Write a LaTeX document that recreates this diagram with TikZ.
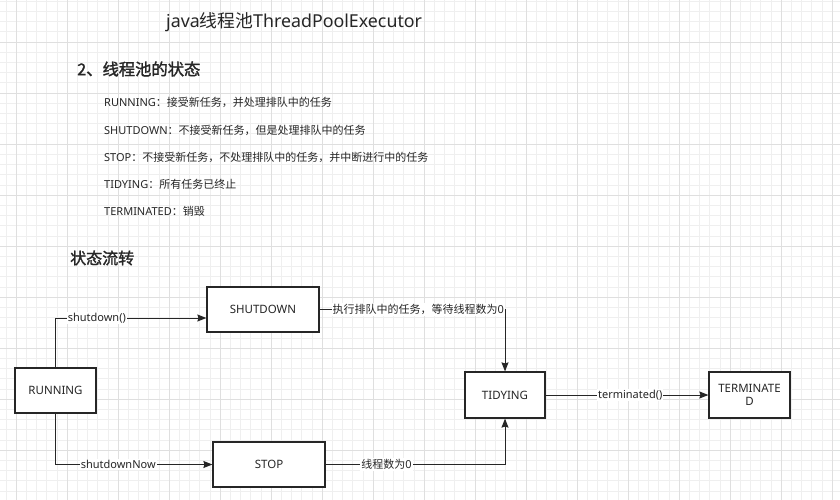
\documentclass[tikz,border=0pt]{standalone}
\usepackage{fontspec}
\setmainfont{Noto Sans}
\newfontfamily\cjk{Noto Sans CJK SC}
\newfontfamily\cjkb[FakeBold=1.6]{Noto Sans CJK SC}
\usetikzlibrary{arrows.meta}
\definecolor{ink}{HTML}{262626}
\definecolor{gminor}{HTML}{EFEFEF}
\definecolor{gmajor}{HTML}{DFDFDF}
\tikzset{
  box/.style={draw=ink, line width=1.2pt, fill=white, text=ink, font=\fontsize{11.5}{13}\selectfont, inner sep=2pt},
  edge/.style={draw=ink, line width=1pt, -{Stealth[length=9pt,width=7pt,inset=1pt]}},
  lbl/.style={fill=white, text=ink, inner sep=1pt, font=\fontsize{11}{13}\selectfont},
  listtxt/.style={anchor=west, text=ink, inner sep=0pt, font=\fontsize{11}{13}\selectfont},
  minorln/.style={draw=gminor, line width=0.6pt},
  majorln/.style={draw=gmajor, line width=0.8pt}
}
\begin{document}
\begin{tikzpicture}[x=1pt,y=-1pt]
\useasboundingbox (0,0) rectangle (840,500);
\fill[white] (0,0) rectangle (840,500);
% grid
\foreach \i in {0,...,82} { \draw[minorln] (5.8+10.2*\i,0) -- (5.8+10.2*\i,500); }
\foreach \j in {0,...,49} { \draw[minorln] (0,1.2+10.2*\j) -- (840,1.2+10.2*\j); }
\foreach \i in {0,...,16} { \draw[majorln] (16+51*\i,0) -- (16+51*\i,500); }
\foreach \j in {1,...,10} { \draw[majorln] (0,-9+51*\j) -- (840,-9+51*\j); }

% texts
\node[listtxt, font=\fontsize{17.8}{20}\selectfont] (title) at (166,22) {java{\cjk 线程池}ThreadPoolExecutor};
\node[listtxt, font=\fontsize{16.3}{19}\selectfont] (h1) at (77,69) {{\cjkb 2、线程池的状态}};
\node[listtxt] (l1) at (104,102) {RUNNING{\cjk ：接受新任务，并处理排队中的任务}};
\node[listtxt] (l2) at (104,130) {SHUTDOWN{\cjk ：不接受新任务，但是处理排队中的任务}};
\node[listtxt] (l3) at (104,157) {STOP{\cjk ：不接受新任务，不处理排队中的任务，并中断进行中的任务}};
\node[listtxt] (l4) at (104,184) {TIDYING{\cjk ：所有任务已终止}};
\node[listtxt] (l5) at (104,211) {TERMINATED{\cjk ：销毁}};
\node[listtxt, font=\fontsize{16}{18}\selectfont] (h2) at (70,258) {{\cjkb 状态流转}};

% boxes
\node[box, minimum width=81pt, minimum height=45pt] (running) at (55.5,390.5) {RUNNING};
\node[box, minimum width=112pt, minimum height=45pt] (shut) at (263,309.5) {SHUTDOWN};
\node[box, minimum width=112pt, minimum height=45pt] (stop) at (269,464.5) {STOP};
\node[box, minimum width=80pt, minimum height=46pt] (tidy) at (505,395) {TIDYING};
\node[box, minimum width=81pt, minimum height=46pt, align=center] (term) at (749.5,395) {TERMINATE\\D};

% connectors
\draw[edge] (running.north) |- ([yshift=-8.5pt]shut.west) node[lbl, pos=0.637] {shutdown()};
\draw[edge] (running.south) |- (stop.west) node[lbl, pos=0.70] {shutdownNow};
\draw[edge] (shut.east) -| (tidy.north) node[lbl, pos=0.266] {{\cjk 执行排队中的任务，等待线程数为}0};
\draw[edge] (stop.east) -| (tidy.south) node[lbl, pos=0.17] {{\cjk 线程数为}0};
\draw[edge] (tidy.east) -- (term.west) node[lbl, pos=0.52] {terminated()};
\end{tikzpicture}
\end{document}
